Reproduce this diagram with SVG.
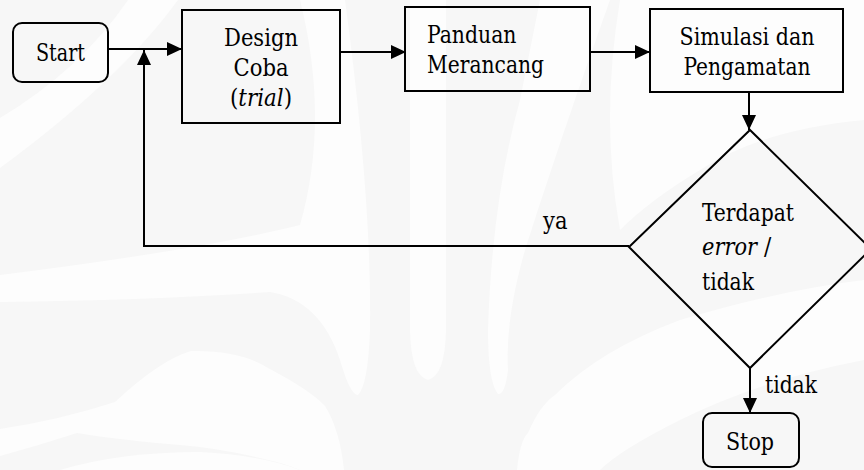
<svg xmlns="http://www.w3.org/2000/svg" width="864" height="470" viewBox="0 0 864 470">
  <style>
    .box { fill: none; stroke: #000; stroke-width: 2; }
    .link { fill: none; stroke: #000; stroke-width: 2; }
    text { font-family: 'DejaVu Serif Condensed', 'DejaVu Serif', serif; font-stretch: condensed; font-size: 24px; fill: #000; }
    .mid { text-anchor: middle; }
    .it { font-style: italic; }
    .wm-dark { fill: #f7f7f7; }
    .wm-light { fill: #fdfdfd; }
  </style>
  <defs>
    <marker id="arrow" viewBox="0 0 15 14" refX="15" refY="7" markerWidth="15" markerHeight="14" orient="auto" markerUnits="userSpaceOnUse">
      <path d="M0,0 L15,7 L0,14 Z" fill="#000"/>
    </marker>
  </defs>

  <!-- faint background emblem -->
  <g id="watermark">
    <rect x="0" y="0" width="864" height="470" class="wm-dark"/>
    <path class="wm-light" d="M128,0 L178,0 Q120,80 0,168 L0,118 Q80,70 128,0 Z"/>
    <path class="wm-light" d="M185,0 L300,0 Q330,120 300,225 Q200,250 0,275 L0,302 Q150,300 270,292 Q320,300 340,360 Q350,395 358,395 Q368,385 370,330 Q372,200 345,0 L300,0 Z"/>
    <path class="wm-light" d="M410,0 L446,0 L446,330 Q445,376 428,380 Q411,376 410,330 Z"/>
    <path class="wm-light" d="M540,0 L610,0 Q560,140 525,250 Q505,320 508,370 Q505,395 498,394 Q488,382 488,330 Q492,200 520,100 Z"/>
    <path class="wm-light" d="M0,429 Q60,420 115,402 Q160,360 191,351 Q240,350 268,368 Q310,390 325,406 Q340,430 344,470 L300,470 Q280,462 268,460 Q220,448 180,445 Q120,440 77,433 Q40,445 0,456 Z"/>
    <path class="wm-light" d="M60,470 Q120,452 200,452 Q260,455 300,470 Z"/>
    <path class="wm-light" d="M517,470 Q520,440 528,433 Q540,405 555,395 Q600,350 680,320 Q780,290 864,280 L864,360 Q760,380 680,420 Q620,450 600,470 Z"/>
    <path class="wm-light" d="M620,0 L864,0 L864,120 Q760,130 700,170 Q650,200 620,230 Q600,120 620,0 Z"/>
  </g>

  <!-- connectors -->
  <g id="connectors">
    <line class="link" x1="108" y1="49" x2="182" y2="49" marker-end="url(#arrow)"/>
    <line class="link" x1="340" y1="52" x2="406" y2="52" marker-end="url(#arrow)"/>
    <line class="link" x1="590" y1="52" x2="650" y2="52" marker-end="url(#arrow)"/>
    <line class="link" x1="749" y1="92" x2="749" y2="130" marker-end="url(#arrow)"/>
    <polyline class="link" points="629,246 144,246 144,50" marker-end="url(#arrow)"/>
    <line class="link" x1="750" y1="368" x2="750" y2="413" marker-end="url(#arrow)"/>
    <text x="543" y="229" textLength="24.5" lengthAdjust="spacingAndGlyphs">ya</text>
    <text x="765" y="393" textLength="52" lengthAdjust="spacingAndGlyphs">tidak</text>
  </g>

  <g id="start">
    <rect class="box" x="13" y="23" width="95" height="59" rx="9"/>
    <text class="mid" x="60.5" y="61" textLength="49" lengthAdjust="spacingAndGlyphs">Start</text>
  </g>

  <g id="design">
    <rect class="box" x="182" y="10" width="158" height="113"/>
    <text class="mid" x="261" y="46" textLength="74" lengthAdjust="spacingAndGlyphs">Design</text>
    <text class="mid" x="261" y="76" textLength="55" lengthAdjust="spacingAndGlyphs">Coba</text>
    <text class="mid" x="261" y="106" textLength="62" lengthAdjust="spacingAndGlyphs">(<tspan class="it">trial</tspan>)</text>
  </g>

  <g id="panduan">
    <rect class="box" x="405" y="7" width="185" height="84"/>
    <text x="427" y="43" textLength="89.5" lengthAdjust="spacingAndGlyphs">Panduan</text>
    <text x="427" y="73" textLength="117" lengthAdjust="spacingAndGlyphs">Merancang</text>
  </g>

  <g id="simulasi">
    <rect class="box" x="650" y="9" width="193" height="83"/>
    <text class="mid" x="747" y="45" textLength="135" lengthAdjust="spacingAndGlyphs">Simulasi dan</text>
    <text class="mid" x="747" y="75" textLength="127" lengthAdjust="spacingAndGlyphs">Pengamatan</text>
  </g>

  <g id="decision">
    <polygon class="box" points="750,130 871,249 750,368 629,247"/>
    <text x="702" y="221" textLength="92" lengthAdjust="spacingAndGlyphs">Terdapat</text>
    <text class="it" x="702" y="255" textLength="55" lengthAdjust="spacingAndGlyphs">error</text>
    <text x="764" y="255">/</text>
    <text x="702" y="290" textLength="52" lengthAdjust="spacingAndGlyphs">tidak</text>
  </g>

  <g id="stop">
    <rect class="box" x="703" y="413" width="96" height="54" rx="9"/>
    <text class="mid" x="750" y="450" textLength="48" lengthAdjust="spacingAndGlyphs">Stop</text>
  </g>
</svg>
